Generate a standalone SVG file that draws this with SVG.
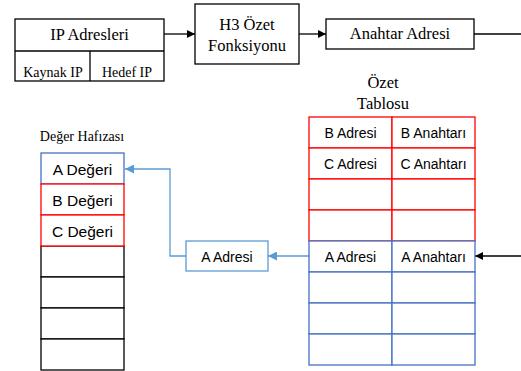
<svg xmlns="http://www.w3.org/2000/svg" width="521" height="371" viewBox="0 0 521 371">
<style>
.box{fill:#fff;stroke:#000;stroke-width:1.3}
.serif{font-family:"Liberation Serif","Times New Roman",serif;fill:#000;text-anchor:middle}
.sans{font-family:"Liberation Sans",Arial,sans-serif;fill:#000;text-anchor:middle;font-size:14px}
.big{font-size:15.5px}
.red{fill:#fff;stroke:#FF0000;stroke-width:1.3}
.blue{fill:#fff;stroke:#4472C4;stroke-width:1.3}
.blk{fill:#fff;stroke:#000;stroke-width:1.3}
.con{fill:none;stroke:#000;stroke-width:1.3}
.conb{fill:none;stroke:#5B9BD5;stroke-width:1.3}
</style>
<defs>
<marker id="ah" markerWidth="8" markerHeight="8" refX="8" refY="4" orient="auto" markerUnits="userSpaceOnUse"><path d="M0,0 L8,4 L0,8 Z" fill="#000"/></marker>
<marker id="ahb" markerWidth="9" markerHeight="9" refX="9" refY="4.5" orient="auto" markerUnits="userSpaceOnUse"><path d="M0,0 L9,4.5 L0,9 Z" fill="#5B9BD5"/></marker>
</defs>
<rect width="521" height="371" fill="#fff"/>
<g id="connectors">
<path class="con" d="M164,34 H195" marker-end="url(#ah)"/>
<path class="con" d="M299,34 H326" marker-end="url(#ah)"/>
<path class="con" d="M474,34 H521"/>
<path class="con" d="M521,256 H475" marker-end="url(#ah)"/>
<path class="conb" d="M309,256 H268" marker-end="url(#ahb)"/>
<path class="conb" d="M186,256 H170 V169 H125" marker-end="url(#ahb)"/>
</g>
<g id="ip-adresleri">
<rect class="box" x="15" y="19" width="149" height="62"/>
<line class="con" x1="15" y1="51" x2="164" y2="51"/>
<line class="con" x1="90" y1="51" x2="90" y2="81"/>
<text class="serif" x="89.5" y="40" font-size="16.5">IP Adresleri</text>
<text class="serif" x="53" y="77" font-size="14">Kaynak IP</text>
<text class="serif" x="127" y="77" font-size="14">Hedef IP</text>
</g>
<g id="h3-ozet">
<rect class="box" x="195" y="4" width="104" height="60"/>
<text class="serif" x="247" y="30" font-size="16.5">H3 Özet</text>
<text class="serif" x="247" y="51" font-size="16.5">Fonksiyonu</text>
</g>
<g id="anahtar-adresi">
<rect class="box" x="326" y="19" width="148" height="30"/>
<text class="serif" x="400" y="39" font-size="16.5">Anahtar Adresi</text>
</g>
<g id="ozet-tablosu">
<text class="serif" x="383" y="88" font-size="16.5">Özet</text>
<text class="serif" x="383" y="109" font-size="16.5">Tablosu</text>
<rect class="red" x="309" y="117" width="83" height="31"/>
<rect class="red" x="392" y="117" width="83" height="31"/>
<rect class="red" x="309" y="148" width="83" height="31"/>
<rect class="red" x="392" y="148" width="83" height="31"/>
<rect class="red" x="309" y="179" width="83" height="31"/>
<rect class="red" x="392" y="179" width="83" height="31"/>
<rect class="red" x="309" y="210" width="83" height="31"/>
<rect class="red" x="392" y="210" width="83" height="31"/>
<rect class="blue" x="309" y="241" width="83" height="31"/>
<rect class="blue" x="392" y="241" width="83" height="31"/>
<rect class="blue" x="309" y="272" width="83" height="31"/>
<rect class="blue" x="392" y="272" width="83" height="31"/>
<rect class="blue" x="309" y="303" width="83" height="31"/>
<rect class="blue" x="392" y="303" width="83" height="31"/>
<rect class="blue" x="309" y="334" width="83" height="31"/>
<rect class="blue" x="392" y="334" width="83" height="31"/>
<text class="sans" x="350.5" y="137.5">B Adresi</text>
<text class="sans" x="433.5" y="137.5">B Anahtarı</text>
<text class="sans" x="350.5" y="168.5">C Adresi</text>
<text class="sans" x="433.5" y="168.5">C Anahtarı</text>
<text class="sans" x="350.5" y="261.5">A Adresi</text>
<text class="sans" x="433.5" y="261.5">A Anahtarı</text>
</g>
<g id="a-adresi">
<rect x="186" y="241" width="82" height="30" fill="#fff" stroke="#5B9BD5" stroke-width="1.3"/>
<text class="sans" x="227" y="261.5">A Adresi</text>
</g>
<g id="deger-hafizasi">
<text class="serif" x="82" y="141" font-size="14">Değer Hafızası</text>
<rect class="blk" x="41" y="246" width="83" height="31"/>
<rect class="blk" x="41" y="277" width="83" height="31"/>
<rect class="blk" x="41" y="308" width="83" height="31"/>
<rect class="blk" x="41" y="339" width="83" height="31"/>
<rect class="blue" x="41" y="153" width="83" height="31"/>
<rect class="red" x="41" y="184" width="83" height="31"/>
<rect class="red" x="41" y="215" width="83" height="31"/>
<text class="sans big" x="82.5" y="174.5">A Değeri</text>
<text class="sans big" x="82.5" y="205.5">B Değeri</text>
<text class="sans big" x="82.5" y="236.5">C Değeri</text>
</g>
</svg>
